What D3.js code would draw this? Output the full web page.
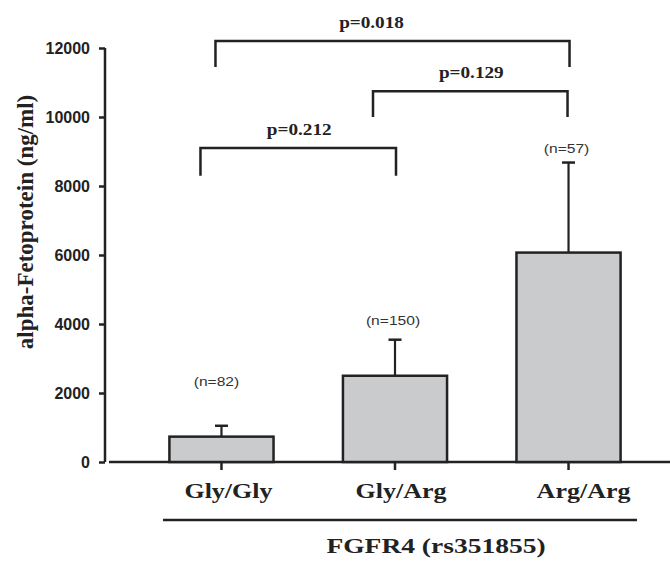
<!DOCTYPE html>
<html>
<head>
<meta charset="utf-8">
<script src="https://cdn.jsdelivr.net/npm/d3@7"></script>
<style>
  body { margin: 0; background: #fff; }
  svg { display: block; }
</style>
</head>
<body>
<div id="chart"></div>
<script>
// genotype groups and AFP means / upper SE
var genotypes = ["Gly/Gly", "Gly/Arg", "Arg/Arg"];
var afpMean = [735, 2500, 6070];
var afpUpper = [1050, 3545, 8680];
var sampleSizes = ["(n=82)", "(n=150)", "(n=57)"];
var nLabelLevel = [2210, 3980, 8960];
var yTicks = [0, 2000, 4000, 6000, 8000, 10000, 12000];

// significance brackets: from group, to group, bar level, leg end, label
var bracketFrom = ["Gly/Gly", "Gly/Arg", "Gly/Gly"];
var bracketTo = ["Arg/Arg", "Arg/Arg", "Gly/Arg"];
var bracketLevel = [12200, 10750, 9100];
var bracketLeg = [11450, 10000, 8300];
var pValues = ["p=0.018", "p=0.129", "p=0.212"];

var width = 670, height = 561;
var ink = "#222";

var svg = d3.select("#chart").append("svg")
    .attr("width", width)
    .attr("height", height);

var x = d3.scaleBand()
    .domain(genotypes)
    .range([100, 690])
    .paddingInner(0.4)
    .paddingOuter(0.4);

var y = d3.scaleLinear()
    .domain([0, 12000])
    .range([462, 48]);

// the figure is a bit stretched sideways, so text is widened to match
function wideText(g, px, py, str, stretch) {
    return g.append("text")
        .attr("transform", "translate(" + px + "," + py + ") scale(" + stretch + ",1)")
        .attr("text-anchor", "middle")
        .text(str);
}

// y axis
var yAxis = d3.axisLeft(y).tickValues(yTicks).tickFormat(d3.format("d")).tickSize(6).tickPadding(9);
var gy = svg.append("g")
    .attr("transform", "translate(105,0)")
    .call(yAxis);
gy.select(".domain").attr("stroke", ink).attr("stroke-width", 2.5).attr("d", "M0," + y(12000) + "V" + y(0));
gy.selectAll(".tick line").attr("stroke", ink).attr("stroke-width", 2.5);
gy.selectAll(".tick text")
    .attr("fill", "#222")
    .style("font-family", "'Liberation Sans', Arial, sans-serif")
    .style("font-weight", "bold")
    .style("font-size", "16px");

// x axis baseline + ticks
var gx = svg.append("g").attr("transform", "translate(0," + y(0) + ")");
gx.append("line")
    .attr("x1", 109).attr("x2", width)
    .attr("stroke", ink).attr("stroke-width", 2.5);
gx.selectAll("line.tick")
    .data(genotypes)
    .enter().append("line")
    .attr("class", "tick")
    .attr("x1", function(d) { return x(d) + x.bandwidth() / 2; })
    .attr("x2", function(d) { return x(d) + x.bandwidth() / 2; })
    .attr("y1", 0).attr("y2", 8)
    .attr("stroke", ink).attr("stroke-width", 2.5);

// bars
svg.selectAll("rect.bar")
    .data(genotypes)
    .enter().append("rect")
    .attr("class", "bar")
    .attr("x", function(d) { return x(d); })
    .attr("width", x.bandwidth())
    .attr("y", function(d, i) { return y(afpMean[i]); })
    .attr("height", function(d, i) { return y(0) - y(afpMean[i]); })
    .attr("fill", "#cacbcd")
    .attr("stroke", ink)
    .attr("stroke-width", 2.5);

// upper error bars
genotypes.forEach(function(d, i) {
    var cx = x(d) + x.bandwidth() / 2;
    svg.append("line")
        .attr("x1", cx).attr("x2", cx)
        .attr("y1", y(afpMean[i])).attr("y2", y(afpUpper[i]))
        .attr("stroke", ink).attr("stroke-width", 2.2);
    svg.append("line")
        .attr("x1", cx - 6.5).attr("x2", cx + 6.5)
        .attr("y1", y(afpUpper[i])).attr("y2", y(afpUpper[i]))
        .attr("stroke", ink).attr("stroke-width", 2.5);
});

// sample sizes
var nG = svg.append("g")
    .attr("fill", "#333")
    .style("font-family", "'Liberation Sans', Arial, sans-serif")
    .style("font-size", "13px");
genotypes.forEach(function(d, i) {
    var cx = x(d) + x.bandwidth() / 2;
    wideText(nG, cx - (i === 0 ? 5 : 2), y(nLabelLevel[i]), sampleSizes[i], 1.2);
});

// significance brackets
var legShift = [[-6, 1], [-22, -1], [-21, 1]];
var pShift = [-21, 1, 1];
var bG = svg.append("g");
var pG = svg.append("g")
    .attr("fill", "#222")
    .style("font-family", "'Liberation Serif', 'Times New Roman', serif")
    .style("font-weight", "bold")
    .style("font-size", "16px");
pValues.forEach(function(p, i) {
    var x1 = x(bracketFrom[i]) + x.bandwidth() / 2 + legShift[i][0];
    var x2 = x(bracketTo[i]) + x.bandwidth() / 2 + legShift[i][1];
    var top = y(bracketLevel[i]), leg = y(bracketLeg[i]);
    bG.append("path")
        .attr("d", "M" + x1 + "," + leg + "V" + top + "H" + x2 + "V" + leg)
        .attr("fill", "none")
        .attr("stroke", ink)
        .attr("stroke-width", 2.5);
    wideText(pG, (x1 + x2) / 2 + pShift[i], top - 13, p, 1.2);
});

// category labels
var labelShift = [7, 6, 15];
var cG = svg.append("g")
    .attr("fill", "#222")
    .style("font-family", "'Liberation Serif', 'Times New Roman', serif")
    .style("font-weight", "bold")
    .style("font-size", "20px");
genotypes.forEach(function(d, i) {
    wideText(cG, x(d) + x.bandwidth() / 2 + labelShift[i], 498, d, 1.3);
});

// group underline and x title
svg.append("line")
    .attr("x1", 163).attr("x2", 637)
    .attr("y1", 520).attr("y2", 520)
    .attr("stroke", ink).attr("stroke-width", 2.5);

var tG = svg.append("g")
    .attr("fill", "#222")
    .style("font-family", "'Liberation Serif', 'Times New Roman', serif")
    .style("font-weight", "bold")
    .style("font-size", "22px");
wideText(tG, 436, 553, "FGFR4 (rs351855)", 1.25);

// y title
svg.append("text")
    .attr("transform", "translate(33,222) rotate(-90)")
    .attr("text-anchor", "middle")
    .attr("fill", "#222")
    .style("font-family", "'Liberation Serif', 'Times New Roman', serif")
    .style("font-weight", "bold")
    .style("font-size", "23px")
    .text("alpha-Fetoprotein (ng/ml)");
</script>
</body>
</html>
